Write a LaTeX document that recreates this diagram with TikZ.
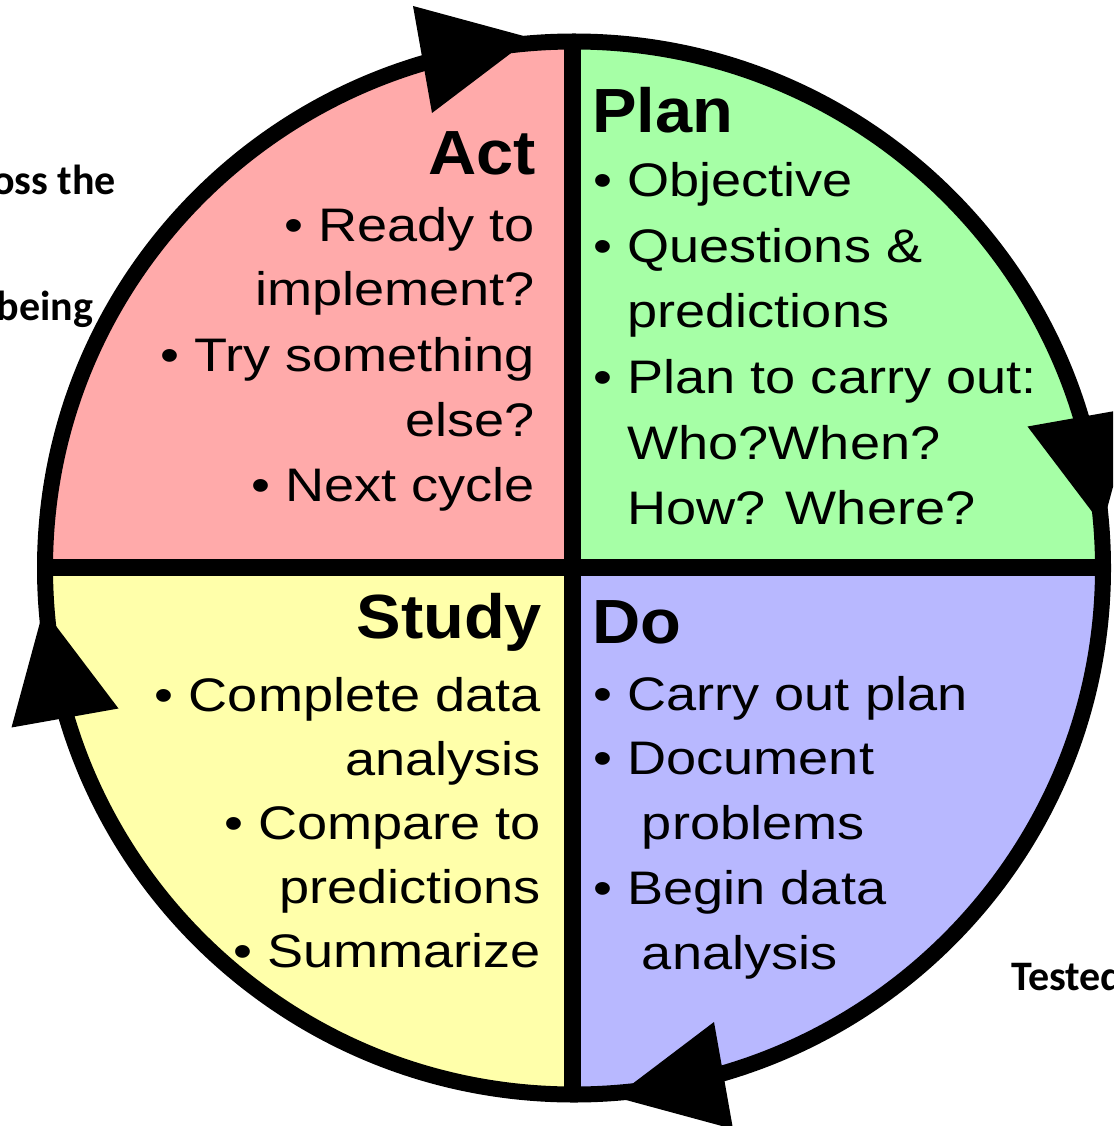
\documentclass[tikz,border=0pt]{standalone}
\usepackage{fontspec}
\setmainfont{Liberation Sans}
\newfontfamily\bodyfont[FakeStretch=1.15]{Liberation Sans}
\newfontfamily\headfont[FakeStretch=1.07]{Liberation Sans}
\newfontfamily\sidefont{Carlito}
\definecolor{actpink}{RGB}{255,170,170}
\definecolor{plangreen}{RGB}{166,255,166}
\definecolor{studyyellow}{RGB}{255,255,170}
\definecolor{doblue}{RGB}{184,184,255}
\tikzset{
  txt/.style={inner sep=0pt, outer sep=0pt, font=\bodyfont\fontsize{35.3}{41}\selectfont},
  hd/.style={inner sep=0pt, outer sep=0pt, font=\headfont\bfseries\fontsize{46.8}{52}\selectfont},
  side/.style={inner sep=0pt, outer sep=0pt, font=\sidefont\bfseries\fontsize{31.5}{36}\selectfont},
  lw/.style={txt, anchor=base west},
  rt/.style={txt, anchor=base east},
  arrowhead/.style={fill=black},
  divider/.style={line width=12.75pt},
  rim/.style={line width=12pt}
}
\newcommand{\bul}{•\ }
\newcommand{\cont}{\phantom{•\ }}
\begin{document}
\begin{tikzpicture}[x=0.75pt,y=-0.75pt]
\useasboundingbox (0,0) rectangle (1113,1126);
\clip (0,0) rectangle (1113,1126);
\coordinate (C) at (574,568);
\begin{scope}
  \clip (C) ellipse [x radius=529, y radius=526.5];
  \fill[actpink] (0,0) rectangle (572.5,567.5);
  \fill[plangreen] (572.5,0) rectangle (1113,567.5);
  \fill[studyyellow] (0,567.5) rectangle (572.5,1126);
  \fill[doblue] (572.5,567.5) rectangle (1113,1126);
  \coordinate (vt) at (572.5,0);
  \coordinate (vb) at (572.5,1126);
  \coordinate (hl) at (0,567.5);
  \coordinate (hr) at (1113,567.5);
  \draw[divider] (vt) -- (vb);
  \draw[divider] (hl) -- (hr);
\end{scope}
\draw[rim] (C) ellipse [x radius=529, y radius=526.5];
% arrowheads (clockwise)
\fill[arrowhead] (413,6) -- (531,38) -- (432,113) -- cycle;
\fill[arrowhead] (1134.5,407.5) -- (1102.5,525.5) -- (1027.5,426.5) -- cycle;
\fill[arrowhead] (733,1129) -- (615,1097) -- (714,1022) -- cycle;
\fill[arrowhead] (11.5,727.5) -- (43.5,609.5) -- (118.5,708.5) -- cycle;
% Plan
\node[hd, anchor=base west] (planh) at (592,133) {Plan};
\node[lw] (p1) at (593.5,197) {\bul Objective};
\node[lw] (p2) at (593.5,262.5) {\bul Questions \&};
\node[lw] (p3) at (593.5,328) {\cont predictions};
\node[lw] (p4) at (593.5,393.5) {\bul Plan to carry out:};
\node[lw] (p5) at (593.5,459) {\cont Who?When?};
\node[lw] (p6) at (593.5,524.5) {\cont How? Where?};
% Act
\node[hd, anchor=base east] (acth) at (536,175) {Act};
\node[rt] (a1) at (535,242) {\bul Ready to};
\node[rt] (a2) at (535,306) {implement?};
\node[rt] (a3) at (535,371) {\bul Try something};
\node[rt] (a4) at (535,436) {else?};
\node[rt] (a5) at (535,501) {\bul Next cycle};
% Do
\node[hd, anchor=base west] (doh) at (592,643) {Do};
\node[lw] (d1) at (593.5,710) {\bul Carry out plan};
\node[lw] (d2) at (593.5,774) {\bul Document};
\node[lw] (d3) at (608,839) {\cont problems};
\node[lw] (d4) at (593.5,904) {\bul Begin data};
\node[lw] (d5) at (608,969) {\cont analysis};
% Study
\node[hd, anchor=base east] (studyh) at (542,638) {Study};
\node[rt] (s1) at (541,711) {\bul Complete data};
\node[rt] (s2) at (541,775) {analysis};
\node[rt] (s3) at (541,839) {\bul Compare to};
\node[rt] (s4) at (541,903) {predictions};
\node[rt] (s5) at (541,967) {\bul Summarize};
% partial background texts
\node[side, anchor=base east] (bg1) at (116,195) {oss the};
\node[side, anchor=base east] (bg2) at (93,321) {being};
\node[side, anchor=base west] (bg3) at (1011,990) {Tested};
\end{tikzpicture}
\end{document}
